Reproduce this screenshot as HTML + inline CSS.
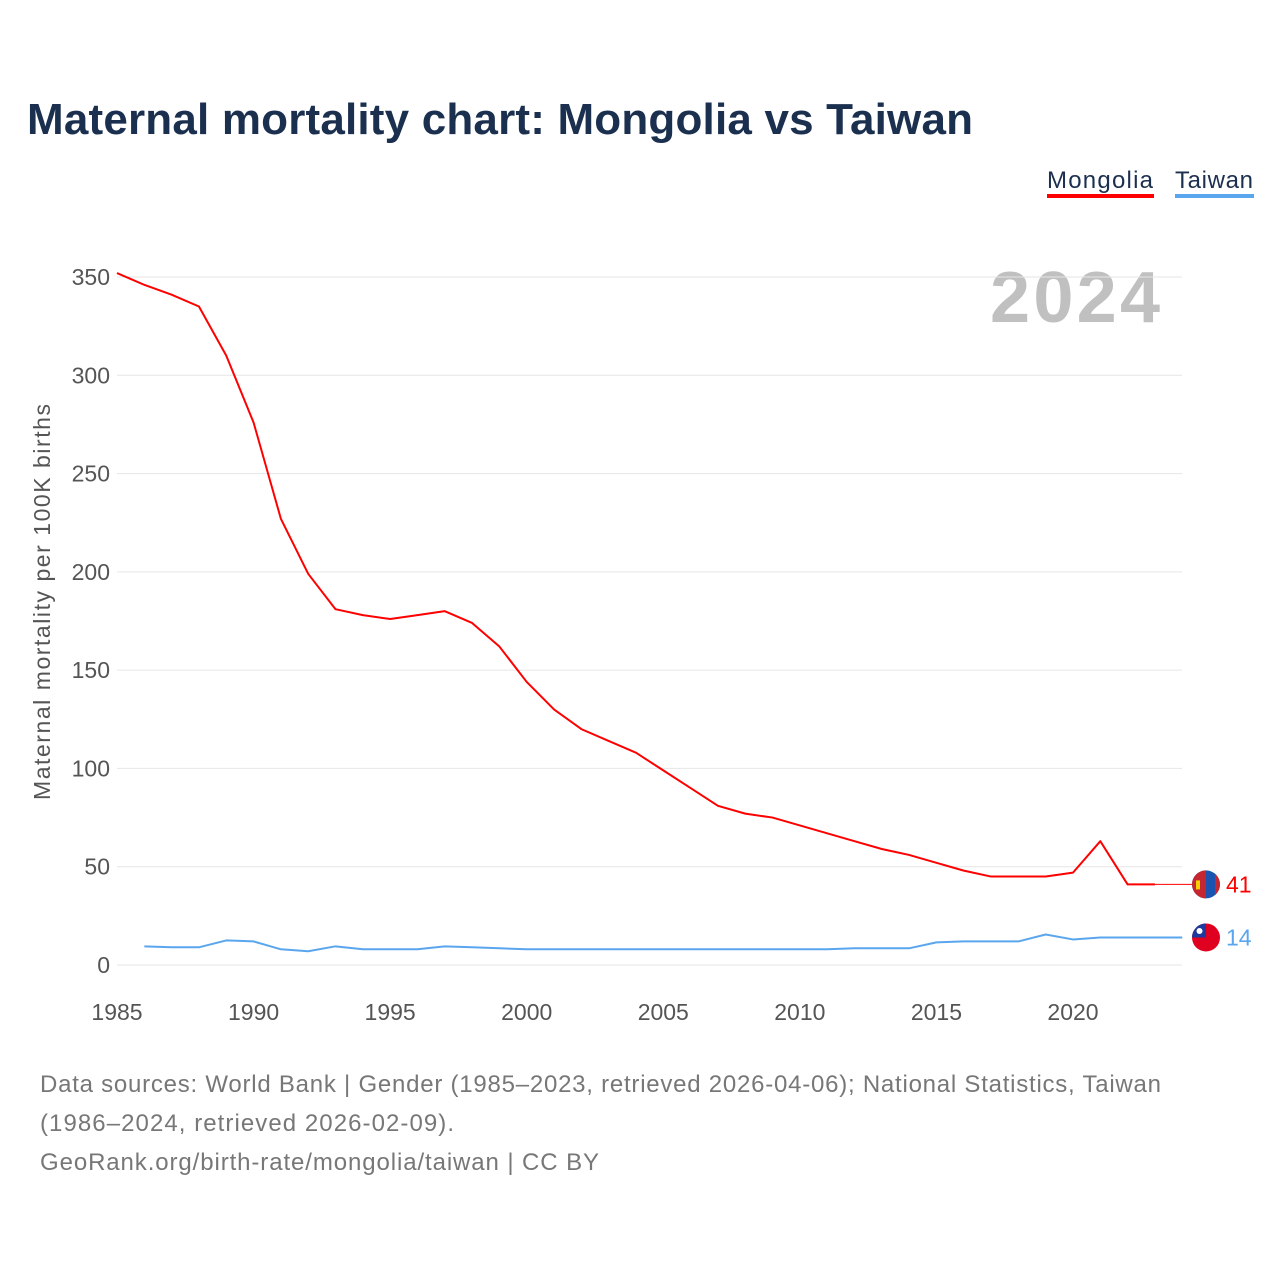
<!DOCTYPE html>
<html><head><meta charset="utf-8"><style>
body{margin:0;background:#fff;font-family:"Liberation Sans",sans-serif;}
</style></head><body>
<svg width="1280" height="1280" viewBox="0 0 1280 1280" xmlns="http://www.w3.org/2000/svg">
<text x="27" y="134" font-size="44" font-weight="bold" fill="#1b2f4f" textLength="946">Maternal mortality chart: Mongolia vs Taiwan</text>
<g>
<text x="1047" y="188" font-size="24" fill="#1b2f4f" textLength="106">Mongolia</text>
<rect x="1047" y="194" width="107" height="4" fill="#f00"/>
<text x="1175" y="188" font-size="24" fill="#1b2f4f" textLength="78">Taiwan</text>
<rect x="1175" y="194" width="79" height="4" fill="#5aa6ee"/>
</g>
<text x="1160" y="322" font-size="72" font-weight="bold" fill="#c0c0c0" text-anchor="end" textLength="170">2024</text>
<g id="grid"></g><g id="xt"></g>
<text transform="translate(50,602) rotate(-90)" font-size="23" fill="#555" text-anchor="middle" textLength="396">Maternal mortality per 100K births</text>
<g id="series"></g>
<g font-size="24" fill="#777">
<text x="40" y="1092" textLength="1121">Data sources: World Bank | Gender (1985–2023, retrieved 2026-04-06); National Statistics, Taiwan</text>
<text x="40" y="1131" textLength="414">(1986–2024, retrieved 2026-02-09).</text>
<text x="40" y="1170" textLength="559">GeoRank.org/birth-rate/mongolia/taiwan | CC BY</text>
</g>
</svg>
<script>
const yTicks=[0,50,100,150,200,250,300,350];
const xTicks=[1985,1990,1995,2000,2005,2010,2015,2020];
const mnYears=[1985,1986,1987,1988,1989,1990,1991,1992,1993,1994,1995,1996,1997,1998,1999,2000,2001,2002,2003,2004,2005,2006,2007,2008,2009,2010,2011,2012,2013,2014,2015,2016,2017,2018,2019,2020,2021,2022,2023];
const mnVals=[352,346,341,335,310,276,227,199,181,178,176,178,180,174,162,144,130,120,114,108,99,90,81,77,75,71,67,63,59,56,52,48,45,45,45,47,63,41,41];
const twYears=[1986,1987,1988,1989,1990,1991,1992,1993,1994,1995,1996,1997,1998,1999,2000,2001,2002,2003,2004,2005,2006,2007,2008,2009,2010,2011,2012,2013,2014,2015,2016,2017,2018,2019,2020,2021,2022,2023,2024];
const twVals=[9.5,9,9,12.5,12,8,7,9.5,8,8,8,9.5,9,8.5,8,8,8,8,8,8,8,8,8,8,8,8,8.5,8.5,8.5,11.5,12,12,12,15.5,13,14,14,14,14];
const NS="http://www.w3.org/2000/svg";
const X=y=>117+(y-1985)*(956/35);
const Y=v=>965-v*(688/350);
function mk(t,a,p){const e=document.createElementNS(NS,t);for(const k in a)e.setAttribute(k,a[k]);p.appendChild(e);return e;}
const grid=document.getElementById('grid'),xt=document.getElementById('xt'),S=document.getElementById('series');
yTicks.forEach(v=>{
 const l=mk('line',{x1:117,x2:1182,y1:Y(v),y2:Y(v),stroke:'#e6e6e6','stroke-width':1},grid);
 
 
 const t=mk('text',{x:110,y:Y(v)+8,'font-size':23,fill:'#555','text-anchor':'end'},grid);t.textContent=v;
 
 
});
xTicks.forEach(v=>{
 const t=mk('text',{x:X(v),y:1020,'font-size':23,fill:'#555','text-anchor':'middle'},xt);t.textContent=v;
 
 
});
function line(ys,vs,c,name){
 const p=mk('polyline',{points:ys.map((y,i)=>X(y)+','+Y(vs[i])).join(' '),fill:'none',stroke:c,'stroke-width':2,'stroke-linejoin':'round'},S);
 
 
}
line(mnYears,mnVals,'#f00','mongolia-line');
line(twYears,twVals,'#5aa6ee','taiwan-line');
const lm=mnVals[mnVals.length-1],lt=twVals[twVals.length-1];
const ext=mk('line',{x1:X(2023),x2:1195,y1:Y(lm),y2:Y(lm),stroke:'#f00','stroke-width':1},S);


const f1=mk('g',{},S);


mk('circle',{cx:1206,cy:Y(lm),r:14,fill:'#1b54b0'},f1);
mk('path',{d:`M1206,${Y(lm)-14} A14,14 0 0 0 1206,${Y(lm)+14}Z`,fill:'#c4272f'},f1);
mk('path',{d:`M1215,${Y(lm)-10.7} A14,14 0 0 1 1215,${Y(lm)+10.7}Z`,fill:'#c4272f'},f1);
mk('rect',{x:1196,y:Y(lm)-4,width:4,height:9,fill:'#f9cf02'},f1);
const t1=mk('text',{x:1226,y:Y(lm)+8,'font-size':23,fill:'#f00'},S);t1.textContent=lm;


const f2=mk('g',{},S);


mk('circle',{cx:1206,cy:Y(lt),r:14,fill:'#e00020'},f2);
mk('path',{d:`M1192,${Y(lt)} A14,14 0 0 1 1206,${Y(lt)-14} L1206,${Y(lt)}Z`,fill:'#1e3a9e'},f2);
mk('circle',{cx:1199.5,cy:Y(lt)-6.5,r:3,fill:'#fff'},f2);
const t2=mk('text',{x:1226,y:Y(lt)+8,'font-size':23,fill:'#5aa6ee'},S);t2.textContent=lt;


</script>
</body></html>
